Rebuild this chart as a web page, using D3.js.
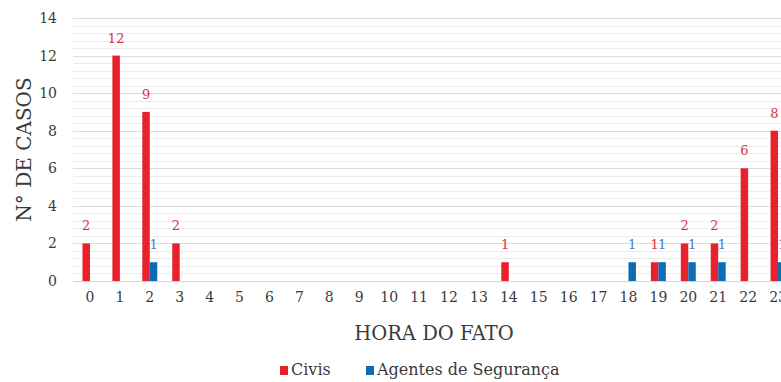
<!DOCTYPE html>
<html>
<head>
<meta charset="utf-8">
<script src="https://cdn.jsdelivr.net/npm/d3@7"></script>
<style>
  html, body { margin: 0; padding: 0; background: #fff; overflow: hidden; }
  svg { display: block; }
  svg text { font-family: "DejaVu Serif", serif !important; }
</style>
</head>
<body>
<svg id="chart" width="781" height="382"></svg>
<script>
// Hours of the day (0–23)
const hours = d3.range(0, 24).map(String);
// Cases per hour; null = no case recorded
const civis = [2, 12, 9, 2, null, null, null, null, null, null, null, null, null, null, 1, null, null, null, null, 1, 2, 2, 6, 8];
const agentes = [null, null, 1, null, null, null, null, null, null, null, null, null, null, null, null, null, null, null, 1, 1, 1, 1, null, 1];
const yTicks = [0, 2, 4, 6, 8, 10, 12, 14];
const seriesNames = ["Civis", "Agentes de Segurança"];
const seriesColors = ["#e8212d", "#0e6cb4"];
const labelColors = ["#d9343c", "#4a7dbf"];
const textFont = "DejaVu Serif";

const svg = d3.select("#chart");
const plot = { left: 75, right: 793, top: 18, bottom: 281 };

const x = d3.scaleBand().domain(hours).range([plot.left, plot.right]).paddingInner(0.5).paddingOuter(0.25);
const xs = d3.scaleBand().domain(seriesNames).range([0, x.bandwidth()]);
const y = d3.scaleLinear().domain([0, 14]).range([plot.bottom, plot.top]);

// minor gridlines every 0.4, major every 2
const minor = d3.range(0, 14.001, 0.4).filter(v => Math.abs(v / 2 - Math.round(v / 2)) > 1e-6);
svg.append("g").selectAll("line").data(minor).join("line")
  .attr("x1", plot.left - 2).attr("x2", 781)
  .attr("y1", d => Math.round(y(d)) + 0.5).attr("y2", d => Math.round(y(d)) + 0.5)
  .attr("stroke", "#ececec").attr("stroke-width", 1);
svg.append("g").selectAll("line").data(yTicks).join("line")
  .attr("x1", plot.left - 2).attr("x2", 781)
  .attr("y1", d => Math.round(y(d)) + 0.5).attr("y2", d => Math.round(y(d)) + 0.5)
  .attr("stroke", d => d === 0 ? "#d4d4d4" : "#dcdcdc").attr("stroke-width", 1);

// y axis labels
const yAxis = d3.axisLeft(y).tickValues(yTicks).tickSize(0).tickPadding(0);
const gy = svg.append("g").attr("transform", `translate(${plot.left - 18},0)`).call(yAxis);
gy.attr("font-family", textFont);
gy.select(".domain").remove();
gy.selectAll("text").attr("font-size", 14).attr("fill", "#3a3a3a");

// x axis labels
const xAxis = d3.axisBottom(x).tickSize(0).tickPadding(0);
const gx = svg.append("g").attr("transform", `translate(0,${plot.bottom + 11})`).call(xAxis);
gx.attr("font-family", textFont);
gx.select(".domain").remove();
gx.selectAll("text").attr("font-size", 14).attr("fill", "#3a3a3a");

// bars
const series = [civis, agentes];
series.forEach((vals, si) => {
  const data = hours.map((h, i) => ({ h, v: vals[i] })).filter(d => d.v != null);
  const g = svg.append("g");
  g.selectAll("rect").data(data).join("rect")
    .attr("x", d => x(d.h) + xs(seriesNames[si]))
    .attr("width", xs.bandwidth())
    .attr("y", d => y(d.v))
    .attr("height", d => y(0) - y(d.v))
    .attr("fill", seriesColors[si]);
  g.selectAll("text").data(data).join("text")
    .attr("x", d => x(d.h) + xs(seriesNames[si]) + xs.bandwidth() / 2)
    .attr("y", d => y(d.v) - 13)
    .attr("text-anchor", "middle")
    .attr("font-size", 13)
    .attr("fill", labelColors[si])
    .text(d => d.v);
});

// axis titles
svg.append("text").attr("x", (plot.left + plot.right) / 2).attr("y", 340)
  .attr("text-anchor", "middle").attr("font-size", 19.5).attr("fill", "#3a3a3a")
  .text("HORA DO FATO");
svg.append("text").attr("transform", `translate(31,${(plot.top + plot.bottom) / 2}) rotate(-90)`)
  .attr("text-anchor", "middle").attr("font-size", 20).attr("fill", "#3a3a3a")
  .text("N° DE CASOS");

// legend
const legend = svg.append("g");
const legendItems = [{ name: seriesNames[0], x: 280 }, { name: seriesNames[1], x: 366 }];
legendItems.forEach((it, i) => {
  legend.append("rect").attr("x", it.x).attr("y", 366).attr("width", 8).attr("height", 9)
    .attr("fill", seriesColors[i]);
  legend.append("text").attr("x", it.x + 11).attr("y", 375)
    .attr("font-size", 16).attr("fill", "#3a3a3a").text(it.name);
});
</script>
</body>
</html>
